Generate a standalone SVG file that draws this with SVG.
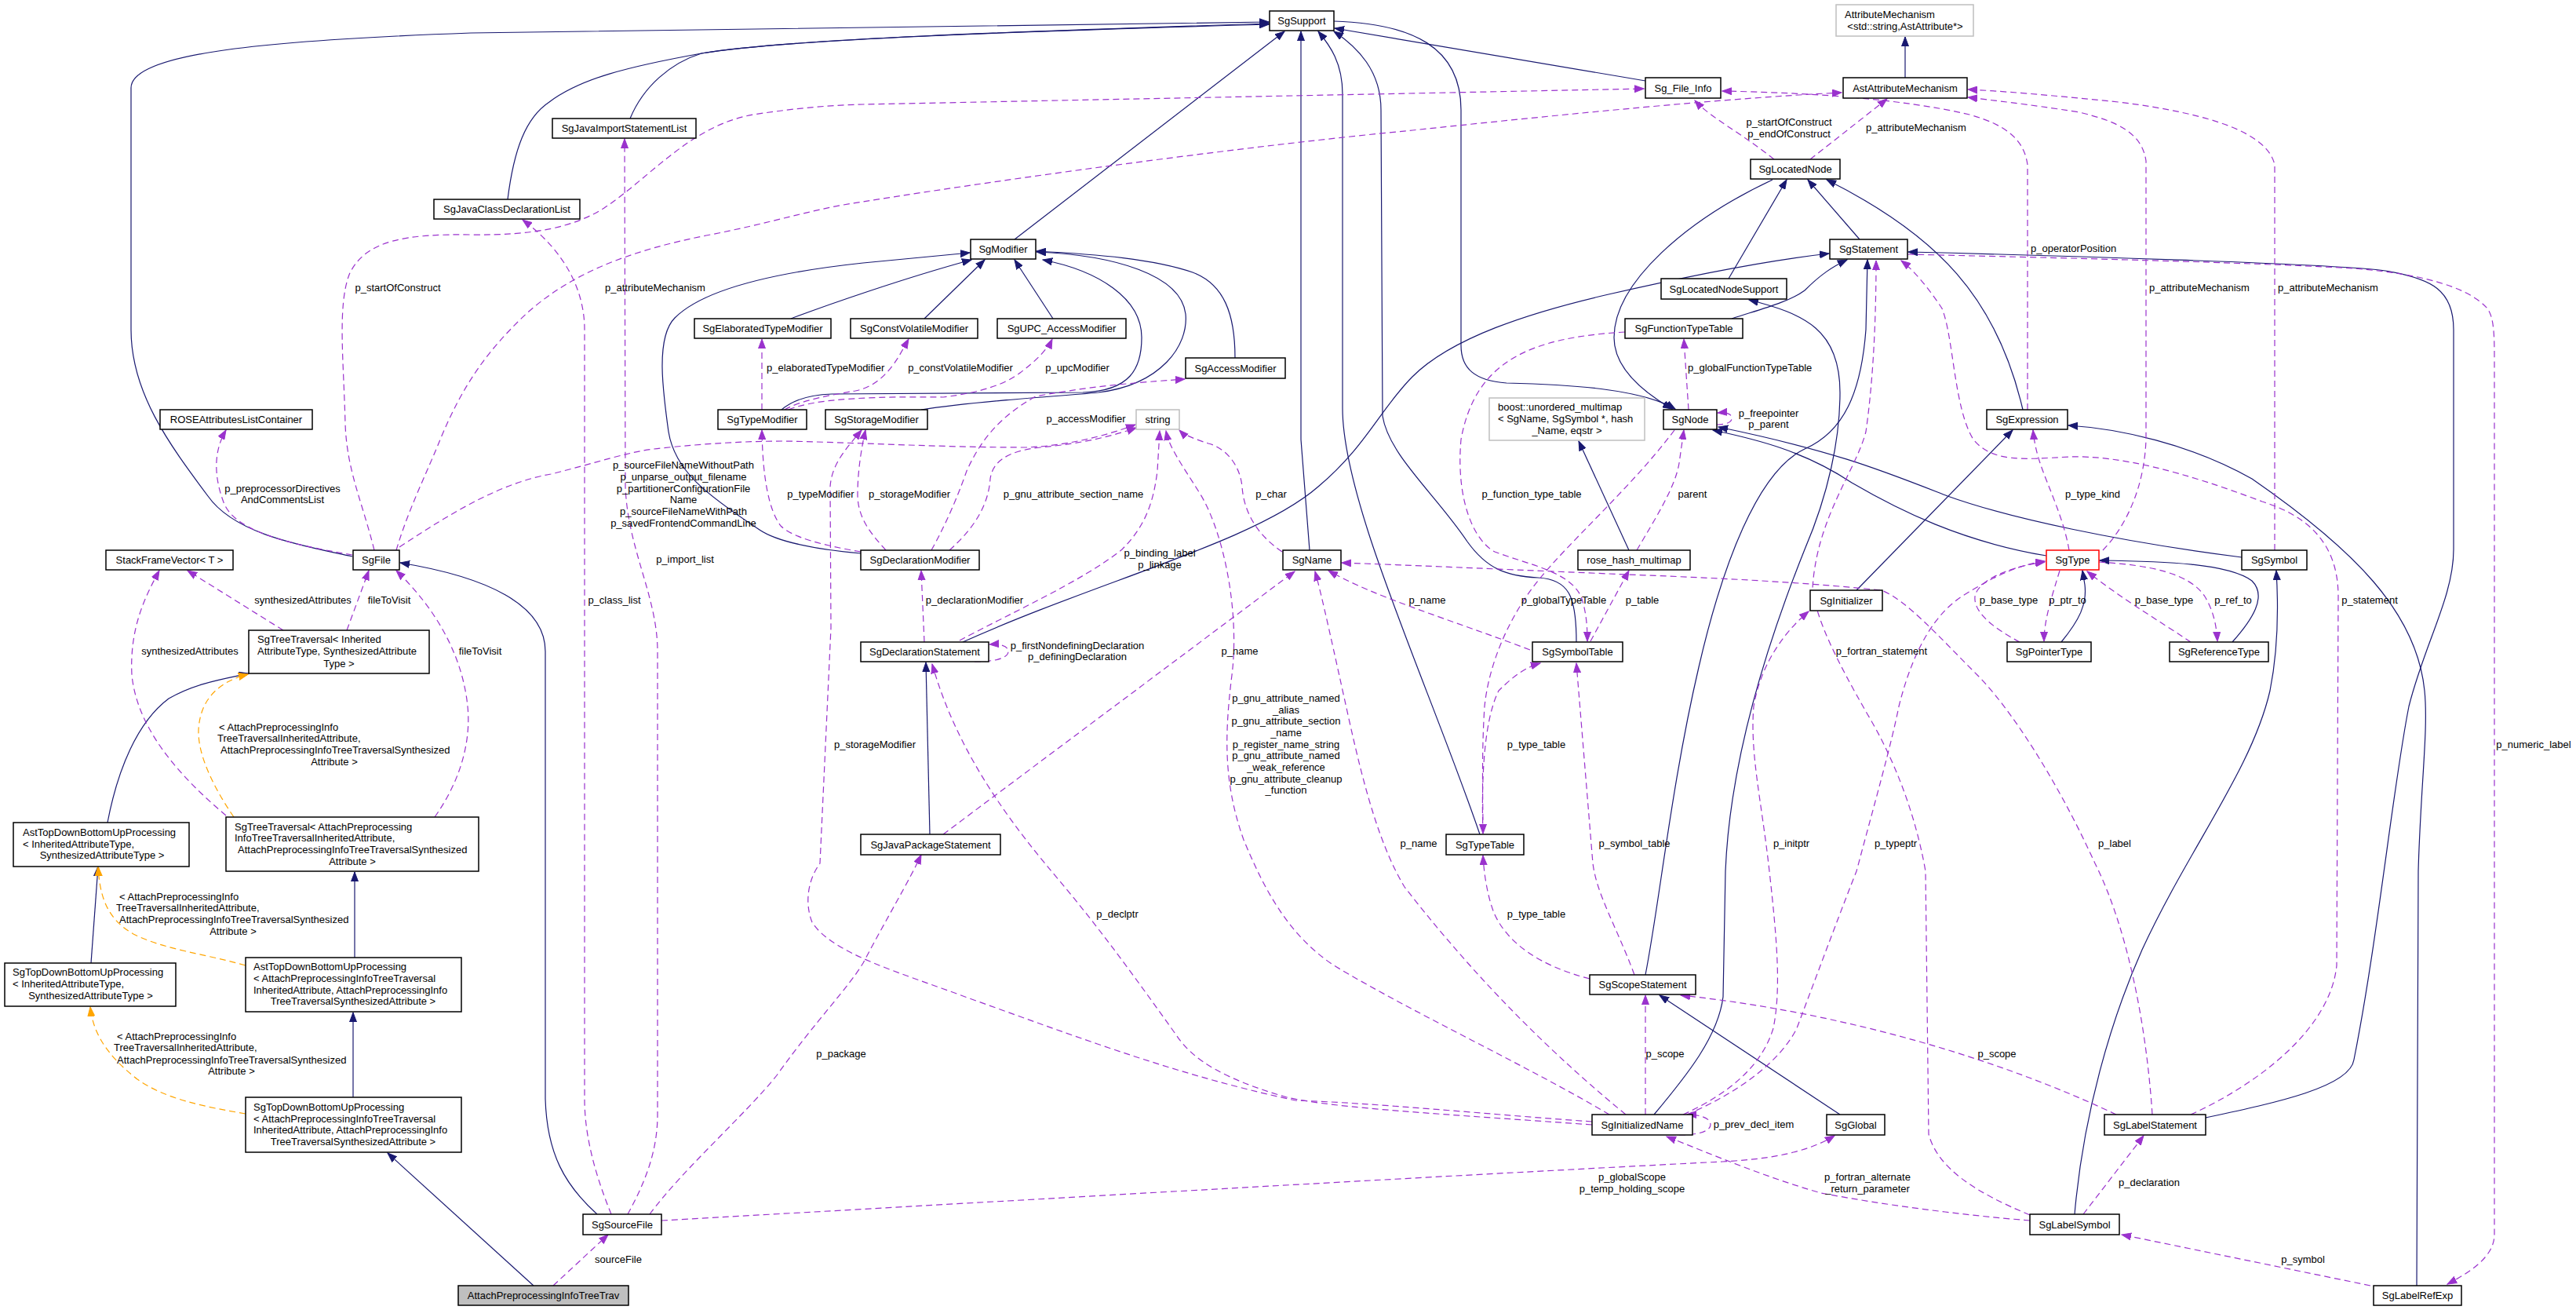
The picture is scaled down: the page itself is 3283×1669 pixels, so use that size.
<svg xmlns="http://www.w3.org/2000/svg" width="3283" height="1669" viewBox="0 0 3283 1669">
<defs>
<style>
text{font-family:"Liberation Sans",Arial,sans-serif;font-size:13px;fill:#000}
.node rect{fill:#fff;stroke:#000;stroke-width:1.5}
.node text{text-anchor:middle}
.node text.s{text-anchor:start}
.gray rect{stroke:#bfbfbf}
.red rect{stroke:#ff0000}
.self rect{fill:#bfbfbf}
.i{fill:none;stroke:#191970;stroke-width:1.2;marker-end:url(#an)}
.u{fill:none;stroke:#9a32cd;stroke-width:1.2;stroke-dasharray:8,5;marker-end:url(#ap)}
.t{fill:none;stroke:#ffa500;stroke-width:1.2;stroke-dasharray:8,5;marker-end:url(#ao)}
.l text{text-anchor:middle}
.l text.s{text-anchor:start}
</style>
<marker id="an" markerWidth="13" markerHeight="10" refX="12" refY="5" orient="auto" markerUnits="userSpaceOnUse"><path d="M0,0.5 L12,5 L0,9.5 z" fill="#191970" stroke="#191970"/></marker>
<marker id="ap" markerWidth="13" markerHeight="10" refX="12" refY="5" orient="auto" markerUnits="userSpaceOnUse"><path d="M0,0.5 L12,5 L0,9.5 z" fill="#9a32cd" stroke="#9a32cd"/></marker>
<marker id="ao" markerWidth="13" markerHeight="10" refX="12" refY="5" orient="auto" markerUnits="userSpaceOnUse"><path d="M0,0.5 L12,5 L0,9.5 z" fill="#ffa500" stroke="#ffa500"/></marker>
</defs>
<rect x="0" y="0" width="3283" height="1669" fill="#fff"/>

<g id="edges">
<!-- inheritance -->
<path class="i" d="M449,709 C390,696 300,682 265,632 C215,565 167,500 167,420 L167,112 C167,70 320,52 600,42 L1617,28"/>
<path class="i" d="M803,151 C820,110 855,80 894,68 C1000,50 1300,40 1617,30"/>
<path class="i" d="M647,254 C655,190 670,150 700,130 C740,100 800,85 894,68 C1000,50 1300,40 1617,31"/>
<path class="i" d="M1293,305 L1637,40"/>
<path class="i" d="M1669,701 L1658,560 L1658,40"/>
<path class="i" d="M1886,1063 C1820,870 1711,640 1711,520 L1711,120 C1711,80 1695,58 1680,40"/>
<path class="i" d="M2009,818 C2009,760 2000,738 1960,736 C1920,734 1895,725 1870,690 C1830,630 1770,580 1762,530 L1760,140 C1760,90 1730,60 1700,40"/>
<path class="i" d="M2097,103 L1701,36"/>
<path class="i" d="M1700,27 C1800,30 1862,60 1862,140 L1862,440 C1862,470 1880,485 1920,488 C2000,490 2090,495 2135,521"/>
<path class="i" d="M2428,99 L2428,47"/>
<path class="i" d="M2259,229 C2150,280 2057,360 2057,430 C2057,470 2095,500 2131,521"/>
<path class="i" d="M2203,355 L2277,229"/>
<path class="i" d="M2370,305 L2304,229"/>
<path class="i" d="M2578,522 C2545,380 2470,300 2328,229"/>
<path class="i" d="M2207,406 C2240,395 2280,385 2300,370 C2320,350 2335,340 2354,331"/>
<path class="i" d="M1227,818 C1400,740 1600,690 1680,620 C1740,570 1760,520 1800,480 C1850,430 1950,398 2050,375 C2150,352 2250,332 2331,323"/>
<path class="i" d="M2097,1242 C2115,1150 2130,1000 2165,850 C2195,720 2240,600 2300,572 C2350,550 2372,500 2378,420 L2380,331"/>
<path class="i" d="M2108,1420 C2150,1370 2190,1320 2196,1270 L2199,1110 C2205,960 2260,800 2300,700 C2330,630 2345,560 2345,500 C2345,420 2300,400 2229,382"/>
<path class="i" d="M2366,752 L2565,548"/>
<path class="i" d="M2608,708 C2500,690 2420,650 2360,615 C2300,575 2240,560 2183,548"/>
<path class="i" d="M2857,710 C2700,690 2560,660 2482,632 C2400,600 2340,575 2190,544"/>
<path class="i" d="M2627,818 C2650,790 2660,770 2657,745 L2654,727"/>
<path class="i" d="M2845,818 C2870,790 2890,760 2870,740 C2840,718 2760,715 2676,714"/>
<path class="i" d="M2644,1547 C2655,1420 2690,1300 2730,1210 C2790,1080 2870,980 2893,880 C2905,820 2903,760 2901,727"/>
<path class="i" d="M2811,1424 C2900,1405 2995,1385 3000,1350 C3030,1200 3050,1000 3070,900 C3090,820 3127,760 3127,700 L3127,420 C3127,370 3100,355 3040,345 C2980,336 2600,325 2432,321"/>
<path class="i" d="M3080,1638 L3082,1110 C3085,1000 3095,930 3090,880 C3080,780 3000,700 2870,610 C2790,565 2700,546 2636,542"/>
<path class="i" d="M2345,1420 L2115,1268"/>
<path class="i" d="M1185,1063 L1180,844"/>
<path class="i" d="M2076,701 L2012,562"/>
<path class="i" d="M761,1547 C720,1510 697,1470 695,1400 L695,830 C695,770 620,735 510,717"/>
<path class="i" d="M1008,406 C1050,390 1150,355 1238,331"/>
<path class="i" d="M1178,406 L1255,331"/>
<path class="i" d="M1342,406 L1293,331"/>
<path class="i" d="M1574,456 C1574,400 1560,362 1520,347 C1470,330 1400,324 1321,320"/>
<path class="i" d="M996,522 C1010,510 1030,503 1060,502 L1380,500 C1440,498 1455,470 1455,430 C1455,380 1400,345 1329,331"/>
<path class="i" d="M1174,522 C1250,510 1350,505 1400,500 C1480,490 1515,440 1511,400 C1505,350 1420,325 1321,321"/>
<path class="i" d="M1097,705 C1040,700 990,690 968,675 C900,630 860,600 852,550 C845,500 835,430 860,405 C890,375 960,350 1100,335 L1236,322"/>
<path class="i" d="M137,1048 C150,980 175,920 215,890 C250,870 285,865 317,858"/>
<path class="i" d="M116,1227 L125,1104"/>
<path class="i" d="M452,1220 L452,1111"/>
<path class="i" d="M450,1398 L450,1290"/>
<path class="i" d="M680,1638 L494,1469"/>
<!-- template -->
<path class="t" d="M298,1041 C270,1000 252,960 253,930 C255,890 280,868 316,859"/>
<path class="t" d="M313,1230 C260,1215 210,1210 170,1190 C135,1170 127,1140 125,1104"/>
<path class="t" d="M313,1419 C260,1410 210,1400 175,1375 C130,1340 118,1310 115,1283"/>
<!-- usage -->
<path class="u" d="M477,701 C462,640 442,600 440,540 C438,460 430,390 445,350 C465,305 520,298 600,299 C680,300 730,290 770,265 C830,225 880,160 960,146 C1020,137 1060,134 1100,133 L2095,113"/>
<path class="u" d="M505,701 C520,650 545,600 561,560 C590,490 620,450 660,410 C720,350 800,320 900,300 C980,285 1040,265 1100,257 C1300,225 1600,185 1800,166 C2000,145 2200,125 2347,118"/>
<path class="u" d="M449,707 C380,695 300,680 285,640 C270,600 275,570 288,548"/>
<path class="u" d="M509,697 C580,650 640,615 702,604 C760,590 800,575 842,571 C900,565 950,562 1000,562 C1100,564 1200,570 1308,570 C1360,568 1410,555 1447,541"/>
<path class="u" d="M361,803 L239,727"/>
<path class="u" d="M442,803 L470,727"/>
<path class="u" d="M288,1039 C230,990 175,930 168,860 C165,800 185,760 203,727"/>
<path class="u" d="M554,1041 C590,990 600,940 596,900 C590,840 560,780 505,727"/>
<path class="u" d="M705,1638 L775,1573"/>
<path class="u" d="M800,1547 C820,1510 838,1470 838,1420 L838,830 C838,760 800,700 797,620 L796,177"/>
<path class="u" d="M779,1547 C760,1500 745,1450 745,1400 L745,420 C745,370 720,320 666,280"/>
<path class="u" d="M828,1547 C870,1490 950,1420 990,1370 C1040,1300 1080,1260 1100,1227 C1130,1170 1160,1120 1174,1089"/>
<path class="u" d="M843,1555 C1200,1535 1800,1500 2195,1480 C2250,1477 2300,1470 2338,1447"/>
<path class="u" d="M2029,1429 C1900,1420 1750,1405 1651,1402 C1500,1370 1370,1320 1230,1270 C1150,1240 1060,1215 1035,1175 C1025,1150 1030,1120 1045,1100 L1059,800 L1058,620 C1060,590 1080,570 1098,548"/>
<path class="u" d="M2029,1433 C1850,1420 1700,1412 1640,1398 C1560,1375 1520,1350 1500,1320 C1450,1250 1400,1180 1340,1110 C1290,1050 1220,960 1188,846"/>
<path class="u" d="M2072,1420 C1950,1320 1860,1220 1790,1130 C1760,1080 1740,1010 1720,920 C1700,830 1685,760 1676,728"/>
<path class="u" d="M2051,1420 C1950,1360 1800,1290 1700,1230 C1640,1190 1610,1130 1585,1070 C1560,1000 1560,940 1570,860 C1580,780 1560,680 1530,630 C1505,590 1490,570 1486,549"/>
<path class="u" d="M2097,1420 L2097,1268"/>
<path class="u" d="M2140,1446 C2165,1446 2180,1441 2180,1433 C2180,1424 2166,1420 2150,1420"/>
<path class="u" d="M2145,1420 C2200,1395 2245,1360 2260,1310 C2270,1260 2265,1200 2255,1110 C2245,1020 2230,960 2235,900 C2245,840 2280,800 2305,779"/>
<path class="u" d="M2150,1420 C2220,1390 2270,1350 2290,1310 C2320,1230 2350,1150 2366,1110 C2390,1020 2410,950 2420,900 C2440,820 2470,780 2500,760 C2540,735 2570,720 2606,715"/>
<path class="u" d="M2587,1555 C2500,1548 2400,1535 2321,1520 C2250,1500 2180,1470 2124,1448"/>
<path class="u" d="M2697,1420 C2550,1350 2350,1290 2142,1268"/>
<path class="u" d="M2743,1420 C2735,1300 2710,1180 2670,1100 C2620,990 2560,900 2520,860 C2470,810 2430,765 2398,752 C2300,742 2200,737 2100,733 C1950,727 1800,720 1710,717"/>
<path class="u" d="M2792,1420 C2880,1380 2970,1310 2978,1230 L2980,760 C2980,700 2950,660 2883,639 C2780,600 2700,580 2637,582 C2580,585 2540,590 2515,560 C2490,520 2490,430 2475,393 C2460,370 2440,345 2423,332"/>
<path class="u" d="M2587,1548 C2520,1520 2470,1490 2458,1445 L2454,1110 C2440,1030 2410,960 2380,910 C2340,840 2315,790 2310,750 C2315,660 2365,600 2378,550 C2388,480 2391,400 2391,332"/>
<path class="u" d="M2655,1547 L2732,1447"/>
<path class="u" d="M3021,1638 L2704,1573"/>
<path class="u" d="M2431,324 C2700,330 2900,336 3000,342 C3100,350 3150,370 3170,393 C3179,405 3179,430 3179,460 L3179,1573 C3179,1600 3150,1620 3119,1636"/>
<path class="u" d="M2584,522 L2584,210 C2580,180 2560,160 2510,146 C2420,125 2300,118 2195,116"/>
<path class="u" d="M2680,701 C2710,670 2733,620 2735,560 L2735,205 C2730,170 2700,155 2650,143 C2580,132 2540,128 2508,124"/>
<path class="u" d="M2899,701 L2899,210 C2890,170 2820,145 2700,130 C2600,120 2550,116 2508,114"/>
<path class="u" d="M2261,203 C2220,170 2180,150 2160,128"/>
<path class="u" d="M2307,203 L2405,126"/>
<path class="u" d="M2152,522 L2146,432"/>
<path class="u" d="M2188,541 C2200,541 2207,538 2207,533 C2207,527 2200,525 2189,526"/>
<path class="u" d="M2134,548 C2080,620 2000,690 1960,740 C1920,790 1897,850 1892,900 C1888,960 1890,1020 1890,1062"/>
<path class="u" d="M2086,701 C2110,660 2135,621 2140,590 L2146,548"/>
<path class="u" d="M2071,423 C1950,430 1880,460 1862,560 C1855,640 1880,690 1905,703 C1950,720 2000,728 2015,760 C2022,780 2023,800 2023,817"/>
<path class="u" d="M2027,817 L2076,727"/>
<path class="u" d="M1950,828 C1850,790 1750,760 1693,727"/>
<path class="u" d="M1890,1062 C1888,1000 1890,920 1910,880 C1930,860 1945,850 1963,845"/>
<path class="u" d="M2083,1242 C2060,1180 2035,1140 2030,1100 L2009,845"/>
<path class="u" d="M2026,1247 C1960,1230 1920,1200 1904,1163 C1895,1140 1891,1110 1890,1090"/>
<path class="u" d="M1202,1063 L1650,728"/>
<path class="u" d="M1178,818 L1174,727"/>
<path class="u" d="M1242,843 C1270,843 1285,838 1285,830 C1285,823 1275,820 1261,821"/>
<path class="u" d="M1223,816 C1290,780 1380,740 1430,700 C1460,670 1470,640 1475,600 L1478,549"/>
<path class="u" d="M1129,701 C1110,680 1093,660 1093,630 C1093,600 1098,570 1103,548"/>
<path class="u" d="M1097,703 C1050,695 1010,685 995,670 C980,650 972,610 971,548"/>
<path class="u" d="M1187,701 C1210,660 1225,620 1232,600 C1250,560 1275,530 1320,505 C1400,490 1470,486 1510,483"/>
<path class="u" d="M1210,701 C1245,670 1260,640 1262,610 C1265,590 1280,575 1326,570 C1380,565 1420,555 1448,545"/>
<path class="u" d="M1634,703 C1600,680 1585,650 1583,620 C1580,590 1560,570 1540,565 C1525,560 1510,555 1503,548"/>
<path class="u" d="M971,522 L971,432"/>
<path class="u" d="M1000,522 C1020,510 1060,503 1090,498 C1120,492 1135,470 1145,455 L1158,432"/>
<path class="u" d="M1005,522 C1040,507 1120,505 1202,506 C1250,500 1280,490 1300,475 C1320,460 1335,445 1341,432"/>
<path class="u" d="M2637,701 C2630,660 2610,620 2600,590 C2595,575 2592,560 2591,548"/>
<path class="u" d="M2625,727 C2615,760 2605,790 2605,817"/>
<path class="u" d="M2574,818 C2540,800 2515,780 2517,760 C2520,740 2560,722 2606,716"/>
<path class="u" d="M2792,818 C2750,790 2700,760 2660,728"/>
<path class="u" d="M2675,716 C2740,720 2790,730 2810,760 C2822,780 2825,800 2826,817"/>
</g>

<g id="edge-labels" class="l">
<text x="507" y="371">p_startOfConstruct</text>
<text x="835" y="371">p_attributeMechanism</text>
<text class="s" x="977" y="473">p_elaboratedTypeModifier</text>
<text x="1224" y="473">p_constVolatileModifier</text>
<text x="1373" y="473">p_upcModifier</text>
<text x="1384" y="538">p_accessModifier</text>
<text class="s" x="2151" y="473">p_globalFunctionTypeTable</text>
<text x="2280" y="160">p_startOfConstruct</text>
<text x="2280" y="175">p_endOfConstruct</text>
<text class="s" x="2378" y="167">p_attributeMechanism</text>
<text class="s" x="2588" y="321">p_operatorPosition</text>
<text class="s" x="2739" y="371">p_attributeMechanism</text>
<text class="s" x="2903" y="371">p_attributeMechanism</text>
<text x="2254" y="531">p_freepointer</text>
<text x="2254" y="545">p_parent</text>
<text x="360" y="627">p_preprocessorDirectives</text>
<text x="360" y="641">AndCommentsList</text>
<text x="386" y="769">synthesizedAttributes</text>
<text x="496" y="769">fileToVisit</text>
<text x="242" y="834">synthesizedAttributes</text>
<text x="612" y="834">fileToVisit</text>
<text class="s" x="279" y="931">&lt; AttachPreprocessingInfo</text>
<text class="s" x="277" y="945">TreeTraversalInheritedAttribute,</text>
<text class="s" x="281" y="960">AttachPreprocessingInfoTreeTraversalSynthesized</text>
<text x="426" y="975">Attribute &gt;</text>
<text x="871" y="597">p_sourceFileNameWithoutPath</text>
<text x="871" y="612">p_unparse_output_filename</text>
<text x="871" y="627">p_partitionerConfigurationFile</text>
<text x="871" y="641">Name</text>
<text x="871" y="656">p_sourceFileNameWithPath</text>
<text x="871" y="671">p_savedFrontendCommandLine</text>
<text x="873" y="717">p_import_list</text>
<text x="783" y="769">p_class_list</text>
<text x="1046" y="634">p_typeModifier</text>
<text x="1115" y="953">p_storageModifier</text>
<text x="1159" y="634">p_storageModifier</text>
<text x="1368" y="634">p_gnu_attribute_section_name</text>
<text x="1620" y="634">p_char</text>
<text x="1952" y="634">p_function_type_table</text>
<text x="2157" y="634">parent</text>
<text x="1478" y="709">p_binding_label</text>
<text x="1478" y="724">p_linkage</text>
<text x="1242" y="769">p_declarationModifier</text>
<text x="1819" y="769">p_name</text>
<text x="1993" y="769">p_globalTypeTable</text>
<text x="2093" y="769">p_table</text>
<text x="1373" y="827">p_firstNondefiningDeclaration</text>
<text x="1373" y="841">p_definingDeclaration</text>
<text x="1580" y="834">p_name</text>
<text x="1639" y="894">p_gnu_attribute_named</text>
<text x="1639" y="909">_alias</text>
<text x="1639" y="923">p_gnu_attribute_section</text>
<text x="1639" y="938">_name</text>
<text x="1639" y="953">p_register_name_string</text>
<text x="1639" y="967">p_gnu_attribute_named</text>
<text x="1639" y="982">_weak_reference</text>
<text x="1639" y="997">p_gnu_attribute_cleanup</text>
<text x="1639" y="1011">_function</text>
<text x="1958" y="953">p_type_table</text>
<text x="1808" y="1079">p_name</text>
<text x="2083" y="1079">p_symbol_table</text>
<text x="2667" y="634">p_type_kind</text>
<text x="2560" y="769">p_base_type</text>
<text x="2635" y="769">p_ptr_to</text>
<text x="2758" y="769">p_base_type</text>
<text x="2846" y="769">p_ref_to</text>
<text x="3020" y="769">p_statement</text>
<text x="2398" y="834">p_fortran_statement</text>
<text x="3229" y="953">p_numeric_label</text>
<text x="2283" y="1079">p_initptr</text>
<text x="2416" y="1079">p_typeptr</text>
<text x="2695" y="1079">p_label</text>
<text class="s" x="152" y="1147">&lt; AttachPreprocessingInfo</text>
<text class="s" x="148" y="1161">TreeTraversalInheritedAttribute,</text>
<text class="s" x="152" y="1176">AttachPreprocessingInfoTreeTraversalSynthesized</text>
<text x="297" y="1191">Attribute &gt;</text>
<text class="s" x="149" y="1325">&lt; AttachPreprocessingInfo</text>
<text class="s" x="145" y="1339">TreeTraversalInheritedAttribute,</text>
<text class="s" x="149" y="1355">AttachPreprocessingInfoTreeTraversalSynthesized</text>
<text x="295" y="1369">Attribute &gt;</text>
<text x="1424" y="1169">p_declptr</text>
<text x="1958" y="1169">p_type_table</text>
<text x="2122" y="1347">p_scope</text>
<text x="2545" y="1347">p_scope</text>
<text x="1072" y="1347">p_package</text>
<text x="2235" y="1437">p_prev_decl_item</text>
<text x="2080" y="1504">p_globalScope</text>
<text x="2080" y="1519">p_temp_holding_scope</text>
<text x="2380" y="1504">p_fortran_alternate</text>
<text x="2380" y="1519">_return_parameter</text>
<text x="2739" y="1511">p_declaration</text>
<text x="788" y="1609">sourceFile</text>
<text x="2935" y="1609">p_symbol</text>
</g>

<g id="n_SgSupport" class="node"><rect x="1618" y="14" width="82" height="25"/><text x="1659" y="31">SgSupport</text></g>
<g id="n_AttributeMechanism" class="node gray"><rect x="2340" y="6" width="175" height="40"/><text class="s" x="2351" y="23">AttributeMechanism</text><text x="2428" y="37.5">&lt;std::string,AstAttribute*&gt;</text></g>
<g id="n_Sg_File_Info" class="node"><rect x="2097" y="99" width="96" height="26"/><text x="2145" y="116.5">Sg_File_Info</text></g>
<g id="n_AstAttributeMechanism" class="node"><rect x="2349" y="99" width="158" height="26"/><text x="2428" y="116.5">AstAttributeMechanism</text></g>
<g id="n_SgJavaImportStatementList" class="node"><rect x="704" y="151" width="183" height="25"/><text x="795.5" y="168">SgJavaImportStatementList</text></g>
<g id="n_SgLocatedNode" class="node"><rect x="2231" y="203" width="114" height="25"/><text x="2288" y="220">SgLocatedNode</text></g>
<g id="n_SgJavaClassDeclarationList" class="node"><rect x="553" y="254" width="186" height="25"/><text x="646" y="271">SgJavaClassDeclarationList</text></g>
<g id="n_SgModifier" class="node"><rect x="1237" y="305" width="83" height="25"/><text x="1278.5" y="322">SgModifier</text></g>
<g id="n_SgStatement" class="node"><rect x="2332" y="305" width="99" height="25"/><text x="2381.5" y="322">SgStatement</text></g>
<g id="n_SgLocatedNodeSupport" class="node"><rect x="2117" y="355" width="160" height="26"/><text x="2197" y="372.5">SgLocatedNodeSupport</text></g>
<g id="n_SgElaboratedTypeModifier" class="node"><rect x="885" y="406" width="174" height="25"/><text x="972" y="423">SgElaboratedTypeModifier</text></g>
<g id="n_SgConstVolatileModifier" class="node"><rect x="1084" y="406" width="162" height="25"/><text x="1165" y="423">SgConstVolatileModifier</text></g>
<g id="n_SgUPC_AccessModifier" class="node"><rect x="1271" y="406" width="164" height="25"/><text x="1353" y="423">SgUPC_AccessModifier</text></g>
<g id="n_SgFunctionTypeTable" class="node"><rect x="2071" y="406" width="150" height="25"/><text x="2146" y="423">SgFunctionTypeTable</text></g>
<g id="n_SgAccessModifier" class="node"><rect x="1511" y="456" width="127" height="26"/><text x="1574.5" y="473.5">SgAccessModifier</text></g>
<g id="n_ROSEAttributesListContainer" class="node"><rect x="204" y="522" width="194" height="25"/><text x="301" y="539">ROSEAttributesListContainer</text></g>
<g id="n_SgTypeModifier" class="node"><rect x="915" y="522" width="113" height="25"/><text x="971.5" y="539">SgTypeModifier</text></g>
<g id="n_SgStorageModifier" class="node"><rect x="1052" y="522" width="130" height="25"/><text x="1117" y="539">SgStorageModifier</text></g>
<g id="n_string" class="node gray"><rect x="1448" y="522" width="55" height="25"/><text x="1475.5" y="539">string</text></g>
<g id="n_boost_unordered_multimap" class="node gray"><rect x="1898" y="507" width="198" height="54"/><text class="s" x="1909" y="523">boost::unordered_multimap</text><text class="s" x="1909" y="538">&lt; SgName, SgSymbol *, hash</text><text x="1997" y="552.5">_Name, eqstr &gt;</text></g>
<g id="n_SgNode" class="node"><rect x="2120" y="522" width="68" height="25"/><text x="2154" y="539">SgNode</text></g>
<g id="n_SgExpression" class="node"><rect x="2532" y="522" width="103" height="25"/><text x="2583.5" y="539">SgExpression</text></g>
<g id="n_StackFrameVector" class="node"><rect x="135" y="701" width="162" height="25"/><text x="216" y="718">StackFrameVector&lt; T &gt;</text></g>
<g id="n_SgFile" class="node"><rect x="450" y="701" width="59" height="25"/><text x="479.5" y="718">SgFile</text></g>
<g id="n_SgDeclarationModifier" class="node"><rect x="1097" y="701" width="151" height="25"/><text x="1172.5" y="718">SgDeclarationModifier</text></g>
<g id="n_SgName" class="node"><rect x="1635" y="701" width="74" height="25"/><text x="1672" y="718">SgName</text></g>
<g id="n_rose_hash_multimap" class="node"><rect x="2011" y="701" width="143" height="25"/><text x="2082.5" y="718">rose_hash_multimap</text></g>
<g id="n_SgType" class="node red"><rect x="2608" y="701" width="67" height="25"/><text x="2641.5" y="718">SgType</text></g>
<g id="n_SgSymbol" class="node"><rect x="2857" y="701" width="83" height="25"/><text x="2898.5" y="718">SgSymbol</text></g>
<g id="n_SgInitializer" class="node"><rect x="2307" y="752" width="92" height="26"/><text x="2353" y="769.5">SgInitializer</text></g>
<g id="n_SgTreeTraversal_Inh" class="node"><rect x="317" y="803" width="230" height="55"/><text class="s" x="328" y="819">SgTreeTraversal&lt; Inherited</text><text class="s" x="328" y="834">AttributeType, SynthesizedAttribute</text><text x="432" y="849.5">Type &gt;</text></g>
<g id="n_SgDeclarationStatement" class="node"><rect x="1097" y="818" width="163" height="25"/><text x="1178.5" y="835">SgDeclarationStatement</text></g>
<g id="n_SgSymbolTable" class="node"><rect x="1953" y="818" width="115" height="25"/><text x="2010.5" y="835">SgSymbolTable</text></g>
<g id="n_SgPointerType" class="node"><rect x="2558" y="818" width="107" height="25"/><text x="2611.5" y="835">SgPointerType</text></g>
<g id="n_SgReferenceType" class="node"><rect x="2765" y="818" width="126" height="25"/><text x="2828" y="835">SgReferenceType</text></g>
<g id="n_AstTopDownBottomUpProcessing_Inh" class="node"><rect x="17" y="1048" width="224" height="56"/><text class="s" x="29" y="1065">AstTopDownBottomUpProcessing</text><text class="s" x="29" y="1080">&lt; InheritedAttributeType,</text><text x="130" y="1094">SynthesizedAttributeType &gt;</text></g>
<g id="n_SgTreeTraversal_Attach" class="node"><rect x="288" y="1041" width="322" height="69"/><text class="s" x="299" y="1057.5">SgTreeTraversal&lt; AttachPreprocessing</text><text class="s" x="299" y="1072">InfoTreeTraversalInheritedAttribute,</text><text class="s" x="303" y="1087">AttachPreprocessingInfoTreeTraversalSynthesized</text><text x="449" y="1101.5">Attribute &gt;</text></g>
<g id="n_SgJavaPackageStatement" class="node"><rect x="1097" y="1063" width="178" height="26"/><text x="1186" y="1080.5">SgJavaPackageStatement</text></g>
<g id="n_SgTypeTable" class="node"><rect x="1843" y="1063" width="99" height="26"/><text x="1892.5" y="1080.5">SgTypeTable</text></g>
<g id="n_SgTopDownBottomUpProcessing_Inh" class="node"><rect x="6" y="1227" width="218" height="55"/><text class="s" x="16" y="1243">SgTopDownBottomUpProcessing</text><text class="s" x="16" y="1258">&lt; InheritedAttributeType,</text><text x="115.5" y="1273">SynthesizedAttributeType &gt;</text></g>
<g id="n_AstTopDownBottomUpProcessing_Attach" class="node"><rect x="313" y="1220" width="275" height="69"/><text class="s" x="323" y="1236">AstTopDownBottomUpProcessing</text><text class="s" x="323" y="1251">&lt; AttachPreprocessingInfoTreeTraversal</text><text class="s" x="323" y="1265.5">InheritedAttribute, AttachPreprocessingInfo</text><text x="450" y="1280">TreeTraversalSynthesizedAttribute &gt;</text></g>
<g id="n_SgScopeStatement" class="node"><rect x="2026" y="1242" width="135" height="25"/><text x="2093.5" y="1259">SgScopeStatement</text></g>
<g id="n_SgTopDownBottomUpProcessing_Attach" class="node"><rect x="313" y="1398" width="275" height="70"/><text class="s" x="323" y="1415">SgTopDownBottomUpProcessing</text><text class="s" x="323" y="1429.5">&lt; AttachPreprocessingInfoTreeTraversal</text><text class="s" x="323" y="1444">InheritedAttribute, AttachPreprocessingInfo</text><text x="450" y="1459">TreeTraversalSynthesizedAttribute &gt;</text></g>
<g id="n_SgInitializedName" class="node"><rect x="2029" y="1420" width="128" height="26"/><text x="2093" y="1437.5">SgInitializedName</text></g>
<g id="n_SgGlobal" class="node"><rect x="2328" y="1420" width="74" height="26"/><text x="2365" y="1437.5">SgGlobal</text></g>
<g id="n_SgLabelStatement" class="node"><rect x="2682" y="1420" width="129" height="26"/><text x="2746.5" y="1437.5">SgLabelStatement</text></g>
<g id="n_SgSourceFile" class="node"><rect x="743" y="1547" width="100" height="26"/><text x="793" y="1564.5">SgSourceFile</text></g>
<g id="n_SgLabelSymbol" class="node"><rect x="2587" y="1547" width="114" height="26"/><text x="2644" y="1564.5">SgLabelSymbol</text></g>
<g id="n_AttachPreprocessingInfoTreeTrav" class="node self"><rect x="584" y="1638" width="217" height="25"/><text x="692.5" y="1655">AttachPreprocessingInfoTreeTrav</text></g>
<g id="n_SgLabelRefExp" class="node"><rect x="3025" y="1638" width="112" height="25"/><text x="3081" y="1655">SgLabelRefExp</text></g>
</svg>
